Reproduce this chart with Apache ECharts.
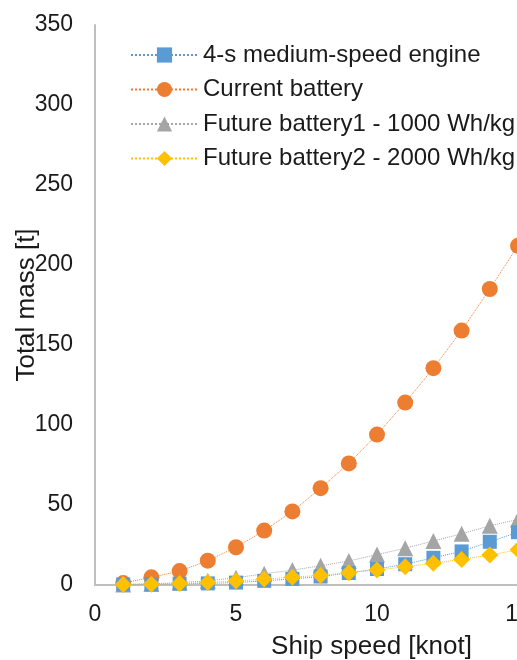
<!DOCTYPE html>
<html>
<head>
<meta charset="utf-8">
<script src="https://cdn.jsdelivr.net/npm/echarts@6/dist/echarts.min.js"></script>
<style>
html, body { margin: 0; padding: 0; background: #fff; }
#main { width: 517px; height: 660px; }
</style>
</head>
<body>
<div id="main"></div>
<script>
// ship speed [knot]
var speeds = [1, 2, 3, 4, 5, 6, 7, 8, 9, 10, 11, 12, 13, 14, 15];
// total mass [t]
var engineMass   = [0.3, 0.5, 0.8, 1.0, 1.5, 2.6, 3.8, 5.3, 7.5, 10, 13, 17, 21, 27, 33];
var currentMass  = [1.2, 4.8, 8.7, 15.2, 23.6, 34, 46, 60.5, 76, 94, 114, 135.5, 159, 185, 212];
var future1Mass  = [0.3, 0.7, 1.5, 2.6, 4.5, 7, 9.3, 12, 15, 19, 23, 27.5, 32, 37, 41];
var future2Mass  = [0.3, 0.5, 1.0, 1.6, 2.5, 3.7, 4.9, 6, 7.7, 9.4, 11.4, 13.6, 16, 18.7, 22];
var seriesNames = [
    '4-s medium-speed engine',
    'Current battery',
    'Future battery1 - 1000 Wh/kg',
    'Future battery2 - 2000 Wh/kg'
];

function pairs(ys) {
    return speeds.map(function (x, i) { return [x, ys[i]]; });
}

var FONT = '"Liberation Sans", Arial, sans-serif';

var chart = echarts.init(document.getElementById('main'));

function lineSeries(name, data, color, symbol, size, z) {
    return {
        name: name,
        type: 'line',
        data: pairs(data),
        symbol: symbol,
        symbolSize: size,
        showAllSymbol: true,
        clip: false,
        z: z,
        itemStyle: { color: color },
        lineStyle: { color: color, width: 1, type: 'dotted' },
        emphasis: { disabled: true }
    };
}

var option = {
    animation: false,
    textStyle: { fontFamily: FONT },
    grid: { left: 95, right: -1, top: 25, bottom: 75, outerBoundsMode: 'none', containLabel: false },
    legend: {
        orient: 'vertical',
        left: 125,
        top: 38,
        itemWidth: 67,
        itemHeight: 19,
        itemGap: 10.5,
        textStyle: { fontSize: 24, color: '#1a1a1a', fontFamily: FONT },
        data: seriesNames
    },
    xAxis: {
        type: 'value',
        min: 0,
        max: 15,
        interval: 5,
        name: 'Ship speed [knot]',
        nameLocation: 'middle',
        nameGap: 49,
        nameMoveOverlap: false,
        nameTextStyle: { fontSize: 26, color: '#1a1a1a', padding: [0, 0, 0, 130] },
        axisLine: { lineStyle: { color: '#bfbfbf', width: 2 } },
        axisTick: { show: false },
        splitLine: { show: false },
        axisLabel: { fontSize: 23, color: '#1a1a1a', margin: 18 }
    },
    yAxis: {
        type: 'value',
        min: 0,
        max: 350,
        interval: 50,
        name: 'Total mass [t]',
        nameLocation: 'middle',
        nameGap: 55,
        nameMoveOverlap: false,
        nameTextStyle: { fontSize: 26, color: '#1a1a1a' },
        axisLine: { show: true, lineStyle: { color: '#bfbfbf', width: 2 } },
        axisTick: { show: false },
        splitLine: { show: false },
        axisLabel: { fontSize: 23, color: '#1a1a1a', margin: 22 }
    },
    series: [
        lineSeries(seriesNames[0], engineMass, '#5b9bd5', 'rect', 14, 3),
        lineSeries(seriesNames[1], currentMass, '#ed7d31', 'circle', 16, 2),
        lineSeries(seriesNames[2], future1Mass, '#a5a5a5', 'triangle', 16, 2),
        lineSeries(seriesNames[3], future2Mass, '#ffc000', 'diamond', 17, 4)
    ]
};

chart.setOption(option);
</script>
</body>
</html>
